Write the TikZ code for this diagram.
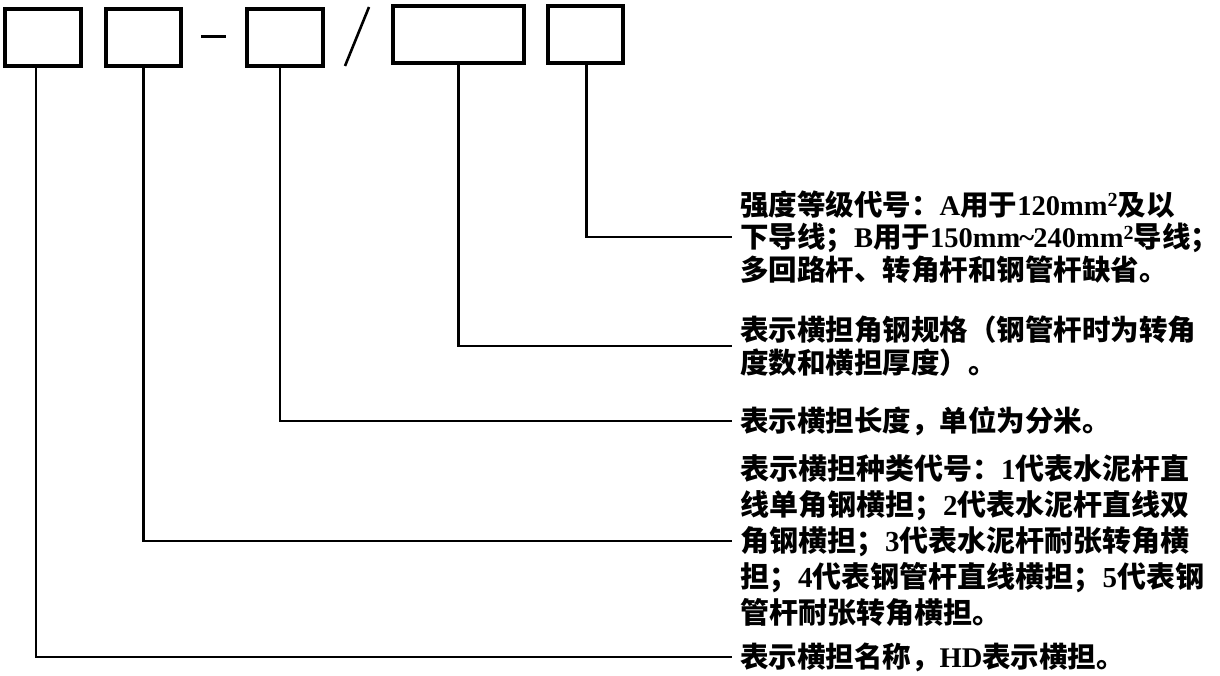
\documentclass[tikz,border=0pt]{standalone}
\usepackage{fontspec}
\setmainfont{Liberation Serif}
\newfontfamily\cjkf{Noto Sans CJK SC}
\newfontfamily\latf{Liberation Serif}
\newcommand\lt[1]{{\latf\bfseries #1}}
\newcommand\sq{\raisebox{0.55ex}{\latf\bfseries\fontsize{20}{20}\selectfont 2}}
\begin{document}
\begin{tikzpicture}[x=1pt,y=-1pt,
  box/.style={draw, line width=3.2pt, inner sep=0pt, minimum height=57pt},
  conn/.style={line width=2.4pt},
  desc/.style={anchor=west, inner sep=0pt, align=left, font=\cjkf\bfseries\fontsize{28.5}{32.5}\selectfont},
  descwide/.style={desc, font=\cjkf\bfseries\fontsize{29}{36}\selectfont}]
\useasboundingbox (0,0) rectangle (1220,676);
% boxes
\node[box, minimum width=76pt] (b1) at (43,37.5) {};
\node[box, minimum width=75pt] (b2) at (143.5,37.5) {};
\node[box, minimum width=76pt] (b3) at (285,37.5) {};
\node[box, minimum width=131pt] (b4) at (458.5,34.5) {};
\node[box, minimum width=75pt] (b5) at (585.5,34.5) {};
% separators
\draw[line width=3pt] (201,37) -- (226,37);
\draw[line width=2.6pt] (345,66) -- (369,7);
% descriptions
\node[desc] (t1) at (740,237) {强度等级代号：\lt{A}用于\lt{120mm}\sq 及以\\
下导线；\lt{B}用于\lt{150mm\kern-1pt\textasciitilde\kern-1pt 240mm}\sq 导线；\\
多回路杆、转角杆和钢管杆缺省。};
\node[desc] (t2) at (740,346) {表示横担角钢规格（钢管杆时为转角\\
度数和横担厚度）。};
\node[desc] (t3) at (740,421) {表示横担长度，单位为分米。};
\node[descwide] (t4) at (740,541) {表示横担种类代号：\lt{1}代表水泥杆直\\
线单角钢横担；\lt{2}代表水泥杆直线双\\
角钢横担；\lt{3}代表水泥杆耐张转角横\\
担；\lt{4}代表钢管杆直线横担；\lt{5}代表钢\\
管杆耐张转角横担。};
\node[desc] (t5) at (740,657) {表示横担名称，\lt{HD}表示横担。};
% connectors
\draw[conn] ([xshift=1pt]b5.south) |- ([xshift=-8pt]t1.west);
\draw[conn] (b4.south) |- ([xshift=-8pt]t2.west);
\draw[conn] ([xshift=-5pt]b3.south) |- ([xshift=-8pt]t3.west);
\draw[conn] (b2.south) |- ([xshift=-8pt]t4.west);
\draw[conn] ([xshift=-7pt]b1.south) |- ([xshift=-8pt]t5.west);
\end{tikzpicture}
\end{document}
